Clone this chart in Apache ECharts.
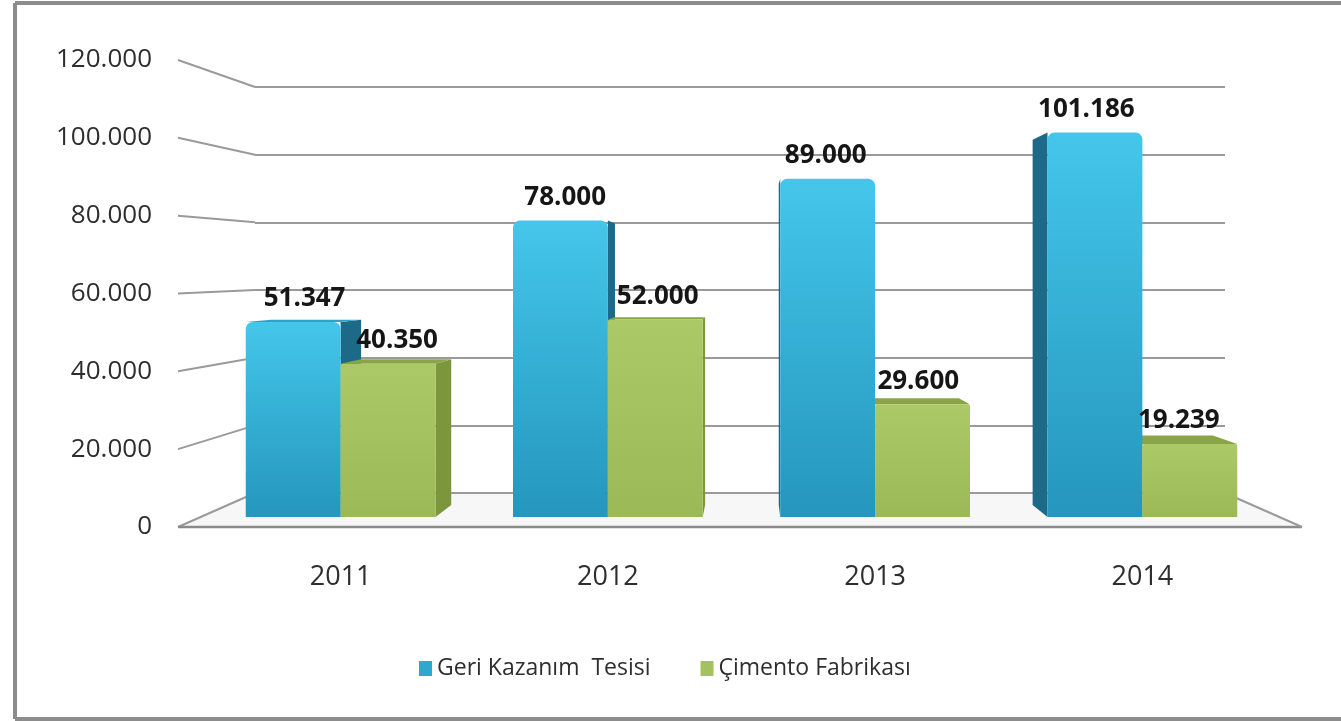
<!DOCTYPE html>
<html>
<head>
<meta charset="utf-8">
<title>Geri Kazanım / Çimento</title>
<script src="https://cdn.jsdelivr.net/npm/echarts@6/dist/echarts.min.js"></script>
<style>
  html, body { margin: 0; padding: 0; background: #fff; }
  #main { width: 1341px; height: 721px; }
</style>
</head>
<body>
<div id="main"></div>
<script>
const categories = ['2011', '2012', '2013', '2014']
const geriKazanim = [51347, 78000, 89000, 101186]
const cimento = [40350, 52000, 29600, 19239]
const yTicks = [0, 20000, 40000, 60000, 80000, 100000, 120000]
const seriesNames = ['Geri Kazanım  Tesisi', 'Çimento Fabrikası']

const FONT = 'Open Sans'
const Y_MAX = 120000
const Y_STEP = 20000

// three planes of the fake 3d box: labels in front, wall at back, bars in between
const GRID_LABEL = { left: 178, right: 39, top: 60, bottom: 194 }
const GRID_WALL = { left: 255, right: 116, top: 87, bottom: 228 }
const GRID_BARS = { left: 207, right: 65, top: 61, bottom: 204 }

// vanishing point for the bar sides
const VP_X = 750
const VP_Y = 277
const DEPTH = 0.05

const palette = [
  { top: '#44c6ea', bottom: '#2596bd', side: '#1c6a88', cap: '#2ea3c8' },
  { top: '#acc968', bottom: '#9bb957', side: '#7c963b', cap: '#8aa548' }
]

function fmt (v) {
  return String(v).replace(/\B(?=(\d{3})+(?!\d))/g, '.')
}

const chart = echarts.init(document.getElementById('main'))

function barRenderer (si) {
  return function (params, api) {
    const cat = api.value(0)
    const val = api.value(1)
    const top = api.coord([cat, val])
    const base = api.coord([cat, 0])
    const band = api.size([1, 0])[0]
    const w = band * 0.355
    const x0 = si === 0 ? top[0] - w : top[0]
    const x1 = x0 + w
    const y0 = top[1]
    const y1 = base[1]
    const col = palette[si]
    const back = (x, y) => [x + (VP_X - x) * DEPTH, y + (VP_Y - y) * DEPTH]
    const children = []
    if (VP_X > x1) {
      children.push({
        type: 'polygon',
        z2: 1,
        shape: { points: [[x1, y0], back(x1, y0), back(x1, y1), [x1, y1]] },
        style: { fill: col.side }
      })
    }
    if (VP_X < x0) {
      children.push({
        type: 'polygon',
        z2: 1,
        shape: { points: [[x0, y0], back(x0, y0), back(x0, y1), [x0, y1]] },
        style: { fill: col.side }
      })
    }
    if (VP_Y < y0) {
      children.push({
        type: 'polygon',
        z2: 1,
        shape: { points: [[x0, y0], [x1, y0], back(x1, y0), back(x0, y0)] },
        style: { fill: col.cap }
      })
    }
    children.push({
      type: 'rect',
      z2: 5,
      shape: { x: x0, y: y0, width: w, height: y1 - y0, r: si === 0 ? [7, 7, 0, 0] : [2, 2, 0, 0] },
      style: {
        fill: new echarts.graphic.LinearGradient(0, 0, 0, 1, [
          { offset: 0, color: col.top },
          { offset: 1, color: col.bottom }
        ])
      }
    })
    const mid = (x0 + x1) / 2
    children.push({
      type: 'text',
      z2: 10,
      style: {
        text: fmt(val),
        x: mid + (VP_X - mid) * DEPTH * 0.5,
        y: y0 - 23,
        align: 'center',
        verticalAlign: 'middle',
        fontFamily: FONT,
        fontWeight: 'bold',
        fontSize: 26,
        fill: '#161616'
      }
    })
    return { type: 'group', children: children }
  }
}

const option = {
  backgroundColor: '#fff',
  animation: false,
  grid: [
    Object.assign({}, GRID_LABEL),
    Object.assign({}, GRID_WALL),
    Object.assign({}, GRID_BARS)
  ],
  legend: {
    left: 414,
    top: 652,
    icon: 'rect',
    itemWidth: 13,
    itemHeight: 15,
    itemGap: 50,
    data: seriesNames,
    textStyle: { fontFamily: FONT, fontSize: 23, color: '#2e2e2e' }
  },
  xAxis: [
    { gridIndex: 0, type: 'category', data: categories, show: false },
    { gridIndex: 1, type: 'category', data: categories, show: false },
    {
      gridIndex: 2,
      type: 'category',
      data: categories,
      axisLine: { show: false },
      axisTick: { show: false },
      axisLabel: { margin: 47, fontFamily: FONT, fontSize: 27, color: '#2e2e2e' }
    }
  ],
  yAxis: [
    {
      gridIndex: 0,
      type: 'value',
      min: 0,
      max: Y_MAX,
      interval: Y_STEP,
      axisLine: { show: false },
      axisTick: { show: false },
      splitLine: { show: false },
      axisLabel: { margin: 26, fontFamily: FONT, fontSize: 26, color: '#2e2e2e', formatter: fmt }
    },
    {
      gridIndex: 1,
      type: 'value',
      min: 0,
      max: Y_MAX,
      interval: Y_STEP,
      axisLine: { show: false },
      axisTick: { show: false },
      axisLabel: { show: false },
      splitLine: { lineStyle: { color: '#9a9a9a', width: 2 } }
    },
    { gridIndex: 2, type: 'value', min: 0, max: Y_MAX, show: false, splitLine: { show: false } }
  ],
  series: [0, 1].map(si => ({
    name: seriesNames[si],
    type: 'custom',
    xAxisIndex: 2,
    yAxisIndex: 2,
    itemStyle: { color: si === 0 ? '#2fa8cf' : '#a3c15e' },
    renderItem: barRenderer(si),
    encode: { x: 0, y: 1 },
    data: (si === 0 ? geriKazanim : cimento).map((v, i) => [i, v])
  }))
}

chart.setOption(option)

// connectors from the label plane to the back wall, floor and frame
function buildDecor () {
  const W = chart.getWidth()
  const H = chart.getHeight()
  const lineStyle = { stroke: '#9a9a9a', lineWidth: 2 }
  const els = []
  const frontY = chart.convertToPixel({ yAxisIndex: 0 }, 0)
  const wallY = chart.convertToPixel({ yAxisIndex: 1 }, 0)
  const fl = GRID_LABEL.left
  const fr = W - GRID_LABEL.right
  const bl = GRID_WALL.left
  const br = W - GRID_WALL.right
  els.push({
    type: 'polygon',
    z: -1,
    shape: { points: [[fl, frontY], [fr, frontY], [br, wallY], [bl, wallY]] },
    style: { fill: '#f7f7f7' }
  })
  yTicks.forEach(v => {
    els.push({
      type: 'line',
      shape: {
        x1: fl,
        y1: chart.convertToPixel({ yAxisIndex: 0 }, v),
        x2: bl,
        y2: chart.convertToPixel({ yAxisIndex: 1 }, v)
      },
      style: lineStyle
    })
  })
  els.push({ type: 'line', shape: { x1: fl, y1: frontY, x2: fr, y2: frontY }, style: { stroke: '#8a8a8a', lineWidth: 2.5 } })
  els.push({ type: 'line', shape: { x1: fr, y1: frontY, x2: br, y2: wallY }, style: lineStyle })
  // picture frame (left, top, bottom)
  const frame = { stroke: '#8c8c8c', lineWidth: 4 }
  els.push({ type: 'line', shape: { x1: 15, y1: 3, x2: 15, y2: H - 2 }, style: frame })
  els.push({ type: 'line', shape: { x1: 15, y1: 3, x2: W, y2: 3 }, style: frame })
  els.push({ type: 'line', shape: { x1: 15, y1: H - 2, x2: W, y2: H - 2 }, style: frame })
  chart.setOption({ graphic: { elements: els } })
}

buildDecor()

window.onresize = () => {
  chart.resize()
}
</script>
</body>
</html>
